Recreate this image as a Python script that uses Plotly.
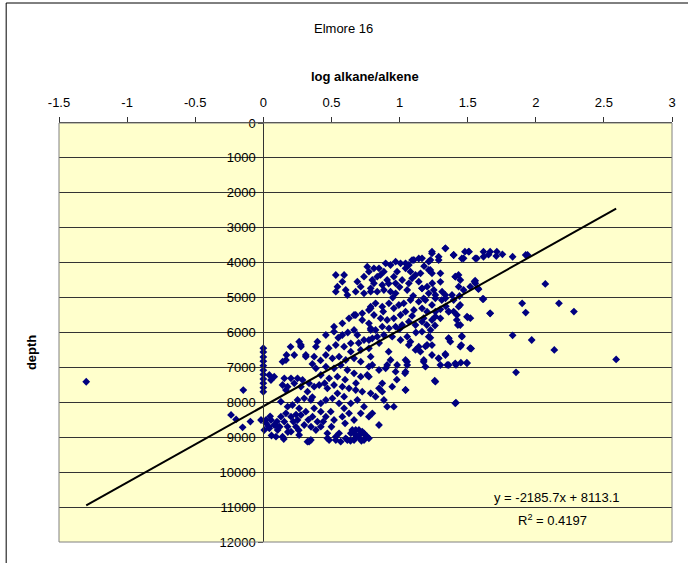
import numpy as np
import plotly.graph_objects as go

# ---------------- data ----------------
chart_title = "Elmore 16"
x_title = "log alkane/alkene"
y_title = "depth"
x_ticks = [-1.5, -1, -0.5, 0, 0.5, 1, 1.5, 2, 2.5, 3]
x_tick_labels = ["-1.5", "-1", "-0.5", "0", "0.5", "1", "1.5", "2", "2.5", "3"]
y_ticks = [0, 1000, 2000, 3000, 4000, 5000, 6000, 7000, 8000, 9000, 10000,
           11000, 12000]
y_tick_labels = ["0", "1000", "2000", "3000", "4000", "5000", "6000", "7000",
                 "8000", "9000", "10000", "11000", "12000"]

# trend line (Excel linear fit shown on the chart)
trend_slope = -2185.7
trend_intercept = 8113.1
trend_r2 = 0.4197

# points as (log alkane/alkene, depth) grouped by area of the cloud
shallow_band = [
    (1.337, 3590), (1.397, 3780), (1.507, 3686), (1.556, 3875), (1.47, 3875),
    (1.287, 3830), (1.238, 3686), (1.227, 3924), (1.165, 3875), (1.105, 3924),
    (1.068, 4067), (1.007, 4018), (0.971, 3972), (0.934, 4067), (0.898, 4018),
    (0.849, 4161), (0.812, 4161), (0.775, 4259), (0.836, 4402), (0.885, 4259),
    (0.982, 4259), (1.044, 4161), (1.080, 4259), (1.117, 4353), (1.154, 4305),
    (1.214, 4210), (1.238, 4305), (1.141, 4545), (1.068, 4591), (1.092, 4448),
    (1.019, 4496), (0.971, 4591), (0.958, 4402), (0.909, 4496), (0.873, 4640),
    (0.812, 4591), (0.788, 4734), (0.836, 4832), (0.885, 4783), (0.934, 4832),
    (0.971, 4877), (1.056, 4783), (1.165, 4734), (1.202, 4688), (1.251, 4783),
    (1.214, 4877), (1.312, 4832), (1.409, 4402), (1.446, 4496), (1.434, 4688),
    (1.47, 4783), (1.519, 4688), (1.556, 4591), (0.763, 4115), (0.80, 4496),
    (0.739, 4402), (0.69, 4545), (0.715, 4688), (0.678, 4832), (0.739, 4877),
    (0.788, 4832),
]
shallow_edge = [
    (1.48, 3685), (1.567, 3875), (1.616, 3685), (1.616, 3830), (1.653, 3770),
    (1.714, 3685), (1.71, 3810), (1.755, 3760), (1.83, 3830), (1.926, 3780),
    (1.94, 3780), (1.238, 3735), (1.336, 3590), (1.397, 3780), (1.457, 3880),
    (1.51, 3685), (1.665, 3685), (1.141, 3880), (1.092, 3925), (1.044, 4020),
    (1.287, 3925), (1.214, 3970), (1.41, 4400), (1.433, 4350), (1.30, 4305),
    (1.226, 4210), (1.24, 4590), (1.165, 4735), (1.575, 4735), (1.55, 4545),
    (1.555, 4515), (1.58, 4760),
]
isolated_group = [
    (0.532, 4353), (0.593, 4353), (0.544, 4688), (0.58, 4545), (0.532, 4832),
    (0.605, 4783), (0.617, 4926),
]
middle_band = [
    (1.385, 4926), (1.337, 5021), (1.263, 5021), (1.19, 5069), (1.141, 5118),
    (1.08, 5069), (1.031, 5164), (0.995, 5212), (0.958, 5307), (0.922, 5164),
    (0.873, 5261), (0.824, 5164), (0.788, 5307), (0.812, 5499), (0.861, 5594),
    (0.909, 5642), (0.958, 5594), (1.007, 5499), (1.044, 5404), (1.105, 5356),
    (1.165, 5307), (1.202, 5404), (1.263, 5404), (1.361, 5404), (1.421, 5499),
    (1.434, 5261), (1.446, 5785), (1.495, 5547), (1.30, 5594), (1.238, 5642),
    (1.165, 5690), (1.117, 5785), (1.068, 5690), (1.019, 5785), (0.971, 5834),
    (0.922, 5880), (0.873, 5834), (0.824, 5928), (0.788, 5880), (0.775, 6215),
    (0.836, 6120), (0.885, 6072), (0.946, 6120), (1.007, 6215), (1.056, 6120),
    (1.080, 6263), (1.141, 6407), (1.202, 6358), (1.214, 6120), (1.165, 5977),
    (1.227, 5928), (1.361, 6166), (1.458, 6120), (1.519, 6453), (1.446, 6407),
    (1.373, 6263), (1.263, 4925), (1.177, 5020), (1.31, 5070), (1.336, 4925),
    (1.238, 5210), (1.30, 5335), (1.263, 5545), (1.177, 5590), (1.20, 5785),
    (1.092, 5525), (1.616, 5040), (1.665, 5450), (1.50, 5565), (1.428, 5785),
    (1.42, 5640), (1.397, 5400), (1.36, 5400), (1.445, 5210), (1.44, 4955),
    (1.397, 5070), (0.788, 5261), (0.775, 5356), (0.726, 5450), (0.666, 5499),
    (0.629, 5594), (0.678, 5499), (0.726, 5642), (0.775, 5737), (0.58, 5737),
    (0.519, 5834), (0.69, 6072), (0.739, 6215), (0.666, 5928), (0.788, 5928),
    (0.80, 6166), (0.58, 6072), (0.519, 5977), (0.459, 6072), (0.397, 6263),
]
deep_middle = [
    (1.238, 6644), (1.287, 6739), (1.337, 6644), (1.30, 6931), (1.361, 6931),
    (1.409, 6882), (1.495, 6882), (1.178, 6788), (1.19, 6979), (1.044, 6788),
    (1.056, 6931), (0.982, 6931), (0.934, 6788), (0.898, 7025), (0.849, 7074),
    (0.909, 6931), (0.971, 7123), (1.044, 7123), (0.80, 6931), (0.775, 7266),
    (0.873, 7455), (0.946, 7552), (0.849, 7598), (1.044, 7647), (1.263, 7409),
    (0.824, 7839), (0.873, 7696), (0.885, 7933), (0.909, 8125), (0.958, 8125),
    (0.80, 8314), (0.775, 8412), (0.849, 8649), (1.409, 8028), (1.258, 7380),
    (1.04, 7170), (1.35, 6930), (1.287, 6740), (1.336, 6615), (1.453, 6360),
    (1.457, 6100), (1.36, 6165), (1.226, 6150), (1.238, 6360), (1.19, 6400),
    (1.153, 6550), (1.177, 6840), (1.117, 6500), (1.068, 6360), (1.055, 6840),
    (1.45, 6865), (1.526, 6460), (1.52, 5590),
]
low_x_cloud = [
    (0.044, 7217), (0.08, 7266), (0.056, 7360), (0.166, 6788), (0.227, 6644),
    (0.276, 6407), (0.312, 6693), (0.373, 6693), (0.532, 6358), (0.593, 6407),
    (0.642, 6310), (0.459, 6644), (0.507, 6739), (0.556, 6693), (0.605, 6788),
    (0.666, 6739), (0.642, 6550), (0.715, 6836), (0.775, 6979), (0.775, 6453),
    (0.715, 6501), (0.788, 6693), (0.263, 6263), (0.20, 6410), (0.141, 6836),
    (0.17, 6644), (0.276, 6358), (0.312, 6644), (0.386, 6407), (0.154, 7312),
    (0.203, 7312), (0.251, 7312), (0.288, 7360), (0.336, 7455), (0.373, 7552),
    (0.41, 7504), (0.47, 7598), (0.519, 7504), (0.58, 7552), (0.629, 7598),
    (0.678, 7647), (0.726, 7696), (0.788, 7741), (0.483, 7312), (0.544, 7266),
    (0.422, 7217), (0.386, 7025), (0.459, 6979), (0.519, 7025), (0.568, 6931),
    (0.617, 7074), (0.666, 7169), (0.715, 7266), (0.763, 7217), (0.324, 7696),
    (0.276, 7552), (0.227, 7455), (0.178, 7552), (0.141, 7504), (0.166, 7647),
    (0.129, 7982),
]
deep_cloud = [
    (0.129, 8412), (0.154, 8555), (0.178, 8697), (0.203, 8841), (0.239, 8697),
    (0.166, 8314), (0.203, 8412), (0.251, 8506), (0.276, 8363), (0.30, 8649),
    (0.093, 8984), (0.141, 8984), (0.263, 8936), (0.324, 9128), (0.386, 8792),
    (0.422, 8697), (0.397, 8555), (0.47, 8887), (0.483, 9079), (0.532, 8984),
    (0.568, 9128), (0.617, 9079), (0.666, 8887), (0.702, 8792), (0.653, 8792),
    (0.739, 8887), (0.775, 9030), (0.361, 8412), (0.312, 8268), (0.373, 8171),
    (0.422, 8268), (0.459, 8412), (0.495, 8268), (0.519, 8506), (0.58, 8412),
    (0.593, 8171), (0.556, 8028), (0.629, 8314), (0.666, 8506), (0.715, 8314),
    (0.739, 8125), (0.69, 7933), (0.642, 8028), (0.593, 7839), (0.544, 7741),
    (0.507, 7884), (0.459, 7933), (0.422, 8028), (0.349, 7933), (0.30, 7884),
    (0.251, 7933), (0.214, 8077), (0.178, 8125), (0.263, 8171), (0.47, 9030),
    (0.532, 9079), (0.556, 8887), (0.605, 9030), (0.642, 8887), (0.666, 9079),
    (0.702, 8936), (0.739, 9079), (0.763, 8984), (0.678, 8792), (0.726, 8841),
    (0.336, 9128), (0.349, 9079),
]
dense_fill = [
    (0.05, 8400), (0.10, 8550), (0.12, 8700), (0.18, 8850), (0.22, 8550),
    (0.26, 8800), (0.33, 8500), (0.35, 8700), (0.06, 8950), (0.15, 9050),
    (0.09, 8650), (0.24, 8350), (0.44, 8550), (0.50, 8700), (0.60, 8600),
    (0.70, 9000), (0.72, 9100), (0.68, 9000), (0.64, 9100), (0.75, 8950),
    (0.36, 6900), (0.42, 6800), (0.48, 6450), (0.55, 6150), (0.62, 6000),
    (0.70, 6300), (0.45, 7450), (0.60, 7350), (0.68, 7450), (0.36, 7850),
    (0.86, 4350), (0.92, 4600), (1.00, 4700), (1.10, 4950), (0.95, 5000),
    (0.88, 5400), (1.00, 5900), (1.12, 6000), (0.85, 6300), (0.92, 6550),
    (1.18, 4100), (1.30, 4550), (1.34, 5250), (1.26, 5800), (0.98, 7350),
]
axis_column = [
    (0.0, 6450), (0.0, 6560), (0.0, 6700), (0.0, 6820), (0.0, 6950),
    (0.0, 7080), (0.0, 7200), (0.0, 7330), (0.0, 7450), (0.0, 7580),
    (0.0, 7700), (-0.017, 8506), (0.02, 8601), (0.056, 8506), (0.08, 8649),
    (0.044, 8744), (0.105, 8792), (0.007, 8792), (0.02, 8500), (0.04, 8700),
]
far_points = [
    (-1.30, 7410), (-0.237, 8360), (-0.20, 8490), (-0.152, 8715), (-0.095, 8550),
    (-0.147, 7650), (2.07, 4610), (1.90, 5165), (2.17, 5165), (1.926, 5430),
    (2.28, 5400), (1.83, 6080), (1.97, 6215), (2.136, 6500), (1.855, 7140),
    (1.665, 5450), (1.61, 5040), (2.59, 6770), (1.414, 8010), (1.044, 7645),
    (1.494, 6865), (1.414, 6930), (1.519, 6450),
]

# ---------------- assemble ----------------
groups = [shallow_band, shallow_edge, isolated_group, middle_band, deep_middle,
          low_x_cloud, deep_cloud, dense_fill, axis_column, far_points]
x_vals = np.array([p[0] for g in groups for p in g])
depth_vals = np.array([p[1] for g in groups for p in g])

trend_x = np.array([x_vals.min(), x_vals.max()])
trend_y = trend_slope * trend_x + trend_intercept

FONT = "Liberation Sans, Arial, sans-serif"
FS = 13

fig = go.Figure()
fig.add_trace(go.Scatter(
    x=x_vals, y=depth_vals, mode="markers",
    marker=dict(symbol="diamond", size=6, color="#000080",
                line=dict(width=0)),
    showlegend=False, hoverinfo="skip"))
fig.add_trace(go.Scatter(
    x=trend_x, y=trend_y, mode="lines",
    line=dict(color="#000000", width=2),
    showlegend=False, hoverinfo="skip"))

L, R, T, B = 59, 14, 123, 21
W, H = 688, 563
pw, ph = W - L - R, H - T - B


def px_x(px):
    return (px - L) / pw


def px_y(py):
    return (H - B - py) / ph


def note(text, px, py, bold=False, angle=0):
    return dict(text=("<b>" + text + "</b>") if bold else text,
                xref="paper", yref="paper", x=px_x(px), y=px_y(py),
                xanchor="center", yanchor="middle", showarrow=False,
                textangle=angle, font=dict(family=FONT, size=FS))


fig.update_layout(
    width=W, height=H, autosize=False,
    margin=dict(l=L, r=R, t=T, b=B, pad=0),
    paper_bgcolor="#FFFFFF", plot_bgcolor="#FFFFCC",
    font=dict(family=FONT, size=FS, color="#000000"),
    xaxis=dict(range=[-1.5, 3], tickvals=x_ticks, ticktext=x_tick_labels,
               side="top", showgrid=False, zeroline=False, showline=True,
               linecolor="#333333", linewidth=1,
               ticks="outside", ticklen=5, tickcolor="#333333",
               ticklabelstandoff=5,
               tickfont=dict(family=FONT, size=FS), anchor="y"),
    yaxis=dict(range=[12000, 0], tickvals=y_ticks, ticktext=y_tick_labels,
               anchor="free", position=1.5 / 4.5, showgrid=True,
               gridcolor="#333333", gridwidth=1, zeroline=False,
               showline=True, linecolor="#333333", linewidth=1,
               ticks="outside", ticklen=5, tickcolor="#333333",
               tickfont=dict(family=FONT, size=FS)),
    shapes=[
        dict(type="rect", xref="paper", yref="paper", x0=0, x1=1, y0=0, y1=1,
             line=dict(color="#808080", width=1), layer="above"),
        dict(type="line", xref="paper", yref="paper",
             x0=px_x(6), x1=px_x(6), y0=px_y(3), y1=px_y(570),
             line=dict(color="#000000", width=1)),
        dict(type="line", xref="paper", yref="paper",
             x0=px_x(6), x1=px_x(700), y0=px_y(3), y1=px_y(3),
             line=dict(color="#000000", width=1)),
    ],
    annotations=[
        note(chart_title, 344, 28),
        note(x_title, 366, 76, bold=True),
        note(y_title, 31, 353, bold=True, angle=-90),
        note(f"y = {trend_slope}x + {trend_intercept}", 559, 497),
        note(f"R<sup>2</sup> = {trend_r2}", 554, 520),
    ],
)

fig.write_html("out.html")
